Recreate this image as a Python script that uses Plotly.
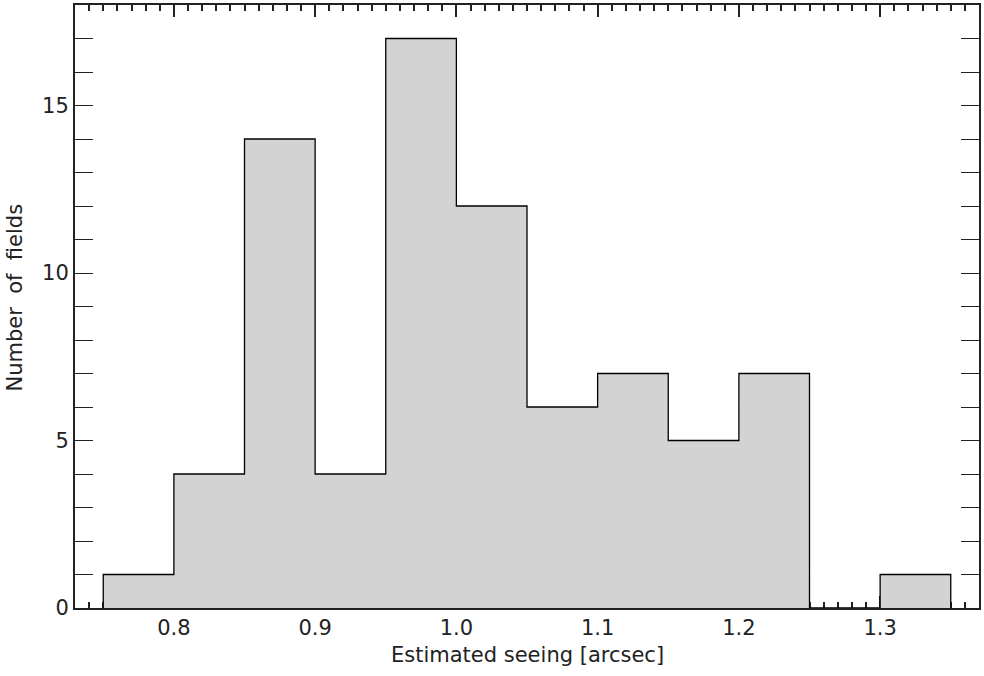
import plotly.graph_objects as go

# Histogram of estimated seeing per field, 0.05" bins
bin_edges = [0.75, 0.80, 0.85, 0.90, 0.95, 1.00, 1.05, 1.10, 1.15, 1.20, 1.25, 1.30, 1.35]
counts = [1, 4, 14, 4, 17, 12, 6, 7, 5, 7, 0, 1]

x_tick_vals = [0.8, 0.9, 1.0, 1.1, 1.2, 1.3]
x_tick_text = ["0.8", "0.9", "1.0", "1.1", "1.2", "1.3"]
y_tick_vals = [0, 5, 10, 15]
y_tick_text = ["0", "5", "10", "15"]

X_RANGE = [0.73, 1.37]
Y_RANGE = [0, 18]

bin_width = bin_edges[1] - bin_edges[0]
centers = [(a + b) / 2 for a, b in zip(bin_edges[:-1], bin_edges[1:])]

# Step outline of the histogram (IDL psym=10 style)
step_x, step_y = [bin_edges[0]], [0]
for left, right, c in zip(bin_edges[:-1], bin_edges[1:], counts):
    step_x += [left, right]
    step_y += [c, c]
step_x.append(bin_edges[-1])
step_y.append(0)

FONT = "DejaVu Sans"
INK = "#222222"
AX = "#222222"

fig = go.Figure()
fig.add_trace(go.Bar(
    x=centers, y=counts, width=bin_width,
    marker=dict(color="#d3d3d3", line=dict(width=0)),
    hoverinfo="skip", showlegend=False,
))
fig.add_trace(go.Scatter(
    x=step_x, y=step_y, mode="lines",
    line=dict(color="black", width=1.3),
    hoverinfo="skip", showlegend=False,
))
# transparent copy of the bin centres on the top axis so that axis gets drawn
fig.add_trace(go.Scatter(
    x=centers, y=counts, xaxis="x2", mode="markers",
    marker=dict(opacity=0), hoverinfo="skip", showlegend=False,
))

axis_common = dict(
    showgrid=False, zeroline=False,
    showline=True, linecolor=AX, linewidth=2,
    ticks="inside", tickcolor=AX,
    layer="below traces",
    tickfont=dict(family=FONT, size=21, color=INK),
)

x_minor = dict(tickmode="linear", tick0=0.70, dtick=0.01, ticklen=6, ticks="inside",
               tickcolor=AX, tickwidth=1.5, showgrid=False)

fig.update_layout(
    width=984, height=676,
    margin=dict(l=75, r=3, t=4, b=68),
    paper_bgcolor="white", plot_bgcolor="white",
    bargap=0,
    xaxis=dict(
        range=X_RANGE, mirror=True,
        tickmode="array", tickvals=x_tick_vals, ticktext=x_tick_text,
        ticklen=12, tickwidth=1.5, minor=x_minor,
        **axis_common,
    ),
    # top edge: same ticks, no labels
    xaxis2=dict(
        range=X_RANGE, overlaying="x", anchor="y", side="top",
        tickmode="array", tickvals=x_tick_vals, showticklabels=False,
        ticks="inside", ticklen=12, tickwidth=1.5, tickcolor=AX, minor=x_minor,
        showline=False, showgrid=False, zeroline=False, layer="below traces",
    ),
    yaxis=dict(
        range=Y_RANGE, mirror="allticks",
        tickmode="array", tickvals=y_tick_vals, ticktext=y_tick_text,
        ticklen=18, tickwidth=1,
        minor=dict(tickmode="linear", dtick=1, tick0=0, ticklen=9, ticks="inside",
                   tickcolor=AX, tickwidth=1, showgrid=False),
        **axis_common,
    ),
    annotations=[
        dict(text="Estimated seeing [arcsec]", xref="paper", yref="paper",
             x=0.5, y=0, yshift=-47, xanchor="center", yanchor="middle",
             showarrow=False, font=dict(family=FONT, size=21, color=INK)),
        dict(text="Number  of  fields", xref="paper", yref="paper",
             x=0, y=0.515, xshift=-60, xanchor="center", yanchor="middle",
             textangle=-90, showarrow=False, font=dict(family=FONT, size=21, color=INK)),
    ],
)

fig.write_html("out.html")
